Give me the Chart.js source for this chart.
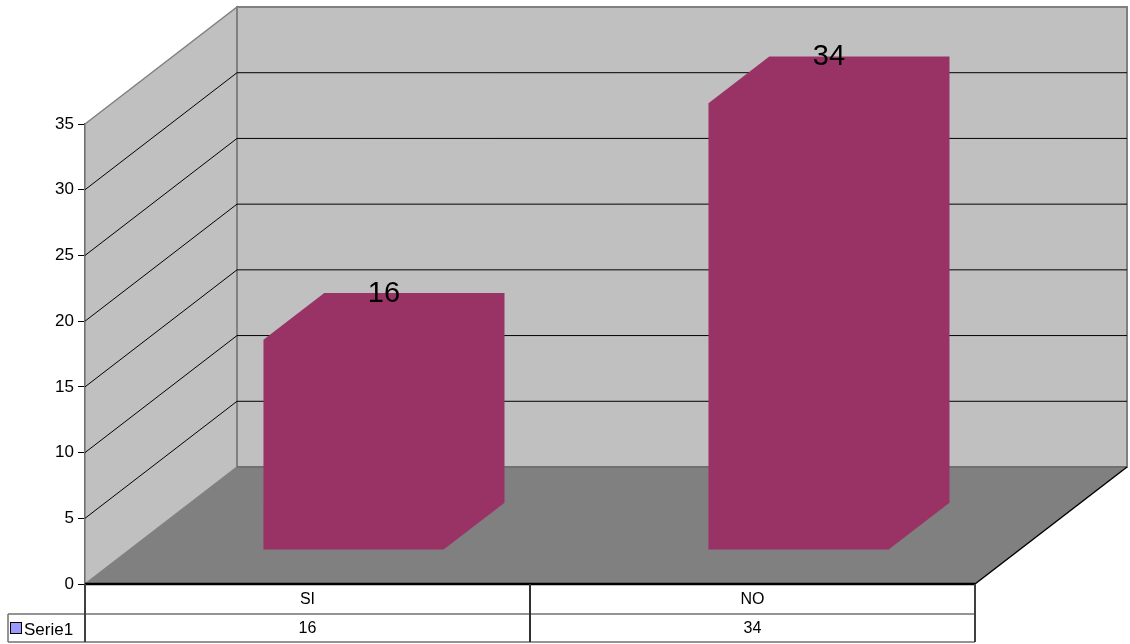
<!DOCTYPE html>
<html>
<head>
<meta charset="utf-8">
<style>
  html, body { margin: 0; padding: 0; background: #fff; }
  #wrap { width: 1130px; height: 644px; position: relative; }
</style>
<script src="https://cdn.jsdelivr.net/npm/chart.js@4/dist/chart.umd.min.js"></script>
</head>
<body>
<div id="wrap"><canvas id="chart" width="1130" height="644"></canvas></div>
<script>
// Chart data
const categories = ['SI', 'NO'];
const seriesName = 'Serie1';
const seriesValues = [16, 34];
const yTicks = [0, 5, 10, 15, 20, 25, 30, 35];

// 3D look: depth offset of the back wall, and the depth slot taken by the bars
const DEPTH_DX = 152, DEPTH_DY = -117;
const BAR_FRONT = 0.29, BAR_BACK = 0.69;
const FONT = '"Liberation Sans", Arial, sans-serif';

function at(x, y, d) { return [x + d * DEPTH_DX, y + d * DEPTH_DY]; }

function poly(ctx, pts, fill, stroke, lw) {
  ctx.beginPath();
  ctx.moveTo(pts[0][0], pts[0][1]);
  for (let i = 1; i < pts.length; i++) ctx.lineTo(pts[i][0], pts[i][1]);
  ctx.closePath();
  if (fill) { ctx.fillStyle = fill; ctx.fill(); }
  if (stroke) { ctx.strokeStyle = stroke; ctx.lineWidth = lw || 1; ctx.stroke(); }
}

function line(ctx, a, b, color, lw) {
  ctx.beginPath();
  ctx.moveTo(a[0], a[1]);
  ctx.lineTo(b[0], b[1]);
  ctx.strokeStyle = color;
  ctx.lineWidth = lw || 1;
  ctx.stroke();
}

const box3d = {
  id: 'box3d',
  beforeDatasetsDraw(chart) {
    const ctx = chart.ctx;
    const ys = chart.scales.y, xs = chart.scales.x;
    const L = xs.left, R = xs.right;
    const y0 = ys.getPixelForValue(0);
    const yTop = ys.getPixelForValue(yTicks[yTicks.length - 1]);
    ctx.save();
    // side wall
    poly(ctx, [at(L, yTop, 0), at(L, yTop, 1), at(L, y0, 1), at(L, y0, 0)], '#c0c0c0', '#808080', 1.5);
    // back wall
    poly(ctx, [at(L, yTop, 1), at(R, yTop, 1), at(R, y0, 1), at(L, y0, 1)], '#c0c0c0', '#808080', 2);
    // gridlines on both walls
    yTicks.slice(1, -1).forEach(v => {
      const py = ys.getPixelForValue(v);
      line(ctx, at(L, py, 0), at(L, py, 1), '#000', 1);
      line(ctx, at(L, py, 1), at(R, py, 1), '#000', 1);
    });
    // floor
    poly(ctx, [at(L, y0, 0), at(L, y0, 1), at(R, y0, 1), at(R, y0, 0)], '#808080', null);
    line(ctx, at(L, y0, 1), at(R, y0, 1), '#707070', 2);
    line(ctx, at(R, y0, 0), at(R, y0, 1), '#000', 1.5);
    line(ctx, at(L, y0, 0), at(R, y0, 0), '#000', 2.5);
    ctx.restore();
  },
  afterDatasetsDraw(chart) {
    const ctx = chart.ctx;
    const ys = chart.scales.y, xs = chart.scales.x;
    const meta = chart.getDatasetMeta(0);
    ctx.save();
    meta.data.forEach((bar, i) => {
      const l = bar.x - bar.width / 2 + 2, r = bar.x + bar.width / 2 + 2;
      const top = bar.y, base = bar.base;
      const f = BAR_FRONT, b = BAR_BACK;
      poly(ctx, [at(l, base, f), at(l, top, f), at(l, top, b), at(r, top, b),
                 at(r, base, b), at(r, base, f)], '#993366', null);
      // value label above the bar's top face
      const m = (f + b) / 2;
      const p = at(bar.x + 2, top, m);
      const q = at(bar.x, top, b);
      ctx.fillStyle = '#000';
      ctx.font = '29px ' + FONT;
      ctx.textAlign = 'center';
      ctx.textBaseline = 'middle';
      ctx.fillText(String(seriesValues[i]), p[0], q[1] + 1);
    });

    // data table under the plot
    const L = xs.left, R = xs.right;
    const tTop = ys.getPixelForValue(0);
    const rowH = [30, 28];
    const r1 = tTop + rowH[0], r2 = r1 + rowH[1];
    const legendLeft = 8;
    line(ctx, [legendLeft, r1], [R, r1], '#707070', 1.5);
    line(ctx, [legendLeft, r2], [R, r2], '#707070', 1.5);
    line(ctx, [legendLeft, r1], [legendLeft, r2], '#707070', 1.5);
    line(ctx, [L, tTop], [L, r2], '#404040', 2);
    line(ctx, [R, tTop], [R, r2], '#404040', 2);
    for (let i = 1; i < categories.length; i++) {
      const xm = (xs.getPixelForValue(i - 1) + xs.getPixelForValue(i)) / 2;
      line(ctx, [xm, tTop], [xm, r2], '#303030', 2);
    }
    ctx.fillStyle = '#000';
    ctx.font = '16px ' + FONT;
    ctx.textAlign = 'center';
    ctx.textBaseline = 'middle';
    categories.forEach((c, i) => {
      const cx = xs.getPixelForValue(i);
      ctx.fillText(c, cx, tTop + rowH[0] / 2 + 1);
      ctx.fillText(String(seriesValues[i]), cx, r1 + rowH[1] / 2 + 1);
    });
    // legend key in the row header
    const ky = r1 + rowH[1] / 2;
    ctx.fillStyle = '#9999ff';
    ctx.fillRect(10, ky - 6, 12, 12);
    ctx.strokeStyle = '#000';
    ctx.lineWidth = 1;
    ctx.strokeRect(10.5, ky - 5.5, 11, 11);
    ctx.fillStyle = '#000';
    ctx.font = '17px ' + FONT;
    ctx.textAlign = 'left';
    ctx.fillText(seriesName, 24, ky + 2);
    ctx.restore();
  }
};

new Chart(document.getElementById('chart'), {
  type: 'bar',
  data: {
    labels: categories,
    datasets: [{
      label: seriesName,
      data: seriesValues,
      backgroundColor: 'rgba(0,0,0,0)',
      borderWidth: 0,
      barPercentage: 0.405,
      categoryPercentage: 1
    }]
  },
  options: {
    responsive: false,
    animation: false,
    layout: { padding: { top: 124, right: 155, bottom: 60, left: 0 } },
    plugins: { legend: { display: false }, tooltip: { enabled: false } },
    scales: {
      x: { display: false },
      y: {
        min: 0, max: 35,
        afterFit(scale) { scale.width = 85; },
        ticks: { stepSize: 5, color: '#000', font: { size: 17, family: FONT }, padding: 4 },
        grid: { drawOnChartArea: false, tickLength: 7, color: '#000', tickWidth: 1 },
        border: { display: true, color: '#404040', width: 2 }
      }
    }
  },
  plugins: [box3d]
});
</script>
</body>
</html>
